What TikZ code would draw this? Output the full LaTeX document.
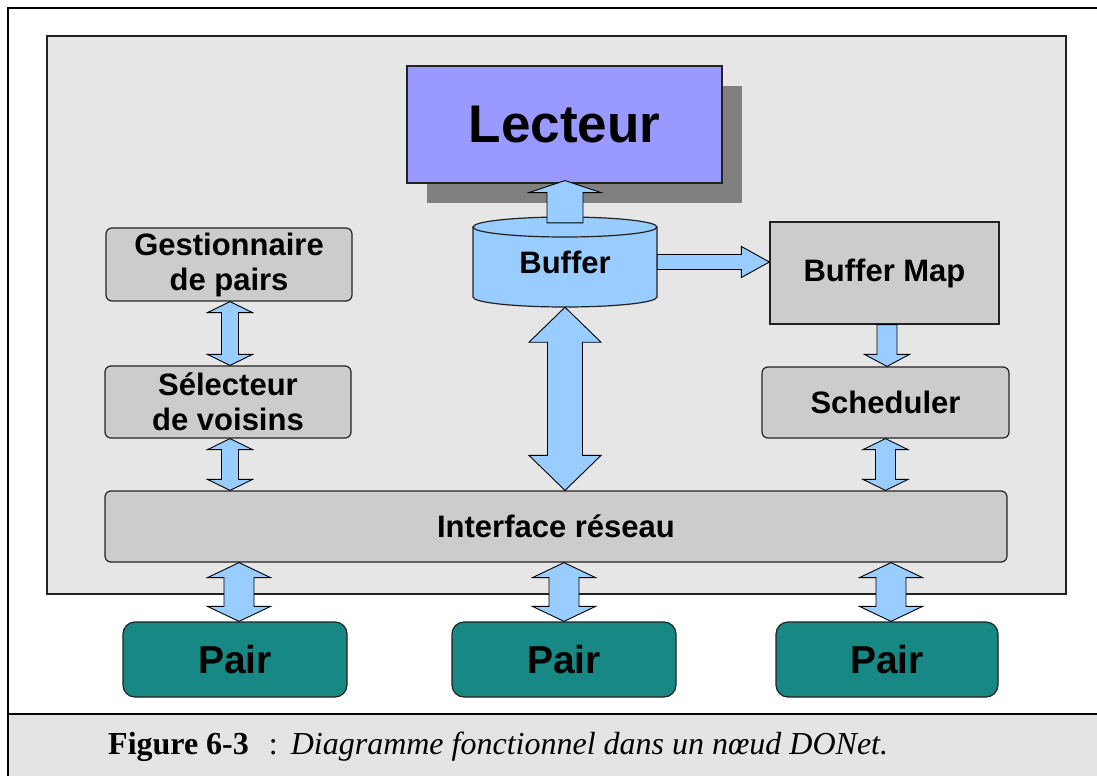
\documentclass[tikz,border=0pt]{standalone}
\usepackage{fontspec}
\setmainfont{Liberation Serif}
\newfontfamily\labelfont{Liberation Sans}
\usetikzlibrary{calc}

\definecolor{panelgray}{HTML}{E6E6E6}
\definecolor{capgray}{HTML}{E4E4E4}
\definecolor{boxgray}{HTML}{CCCCCC}
\definecolor{lectblue}{HTML}{9999FF}
\definecolor{skyblue}{HTML}{99CCFF}
\definecolor{pairteal}{RGB}{24,136,132}
\definecolor{shadowgray}{HTML}{808080}
\definecolor{edge}{HTML}{222222}

% block arrows drawn as outlined polygons between two points
\newcommand\dblarrowv[5]{% top, bottom, half shaft, half head, head length
  \draw[blockarrow] let \p1=(#1), \p2=(#2) in
    (\x1,\y1) -- (\x1+#4,\y1-#5) -- (\x1+#3,\y1-#5) -- (\x1+#3,\y2+#5)
    -- (\x1+#4,\y2+#5) -- (\x1,\y2) -- (\x1-#4,\y2+#5) -- (\x1-#3,\y2+#5)
    -- (\x1-#3,\y1-#5) -- (\x1-#4,\y1-#5) -- cycle;}
\newcommand\uparrowv[5]{% base, tip, half shaft, half head, head length
  \draw[blockarrow] let \p1=(#1), \p2=(#2) in
    (\x1-#3,\y1) -- (\x1-#3,\y2-#5) -- (\x1-#4,\y2-#5) -- (\x1,\y2)
    -- (\x1+#4,\y2-#5) -- (\x1+#3,\y2-#5) -- (\x1+#3,\y1) -- cycle;}
\newcommand\downarrowv[5]{% base, tip, half shaft, half head, head length
  \draw[blockarrow] let \p1=(#1), \p2=(#2) in
    (\x1-#3,\y1) -- (\x1-#3,\y2+#5) -- (\x1-#4,\y2+#5) -- (\x1,\y2)
    -- (\x1+#4,\y2+#5) -- (\x1+#3,\y2+#5) -- (\x1+#3,\y1) -- cycle;}
\newcommand\rightarrowh[5]{% base, tip, half shaft, half head, head length
  \draw[blockarrow] let \p1=(#1), \p2=(#2) in
    (\x1,\y1-#3) -- (\x2-#5,\y1-#3) -- (\x2-#5,\y1-#4) -- (\x2,\y1)
    -- (\x2-#5,\y1+#4) -- (\x2-#5,\y1+#3) -- (\x1,\y1+#3) -- cycle;}

\begin{document}
\begin{tikzpicture}[x=1pt,y=-1pt,
  blockarrow/.style={fill=skyblue, draw=black, line width=0.9pt, line join=miter},
  graybox/.style={draw=edge, line width=1.2pt, fill=boxgray, inner sep=0pt,
    align=center, font=\labelfont\bfseries\fontsize{31}{35}\selectfont},
  roundbox/.style={graybox, rounded corners=6pt},
  pairbox/.style={draw=edge, line width=1.2pt, fill=pairteal, rounded corners=12pt,
    inner sep=0pt, minimum width=224pt, minimum height=75pt,
    font=\labelfont\bfseries\fontsize{39}{44}\selectfont}]

\useasboundingbox (0,0) rectangle (1097,776);

% page frame and caption band
\fill[white] (0,0) rectangle (1097,776);
\fill[capgray] (8,714) rectangle (1097,776);
\draw[black, line width=1.5pt] (1097,8) -- (8,8) -- (8,776);
\draw[black, line width=1.2pt] (8,714) -- (1097,714);

% node panel
\draw[edge, line width=1.4pt, fill=panelgray] (47,36) rectangle (1066,594);

% player with drop shadow
\fill[shadowgray] (427,86) rectangle (742,203);
\node[draw=edge, line width=1.2pt, fill=lectblue, inner sep=0pt,
  minimum width=315pt, minimum height=117pt,
  font=\labelfont\bfseries\fontsize{53}{60}\selectfont] (lect) at (564.5,124.5) {Lecteur};

% buffer cylinder
\fill[skyblue] (473,227) -- (473,297)
  arc[start angle=180, end angle=360, x radius=92pt, y radius=10pt]
  -- (657,227) arc[start angle=0, end angle=180, x radius=92pt, y radius=10pt] -- cycle;
\draw[edge, line width=1.2pt] (473,227) -- (473,297)
  arc[start angle=180, end angle=360, x radius=92pt, y radius=10pt] -- (657,227);
\draw[edge, line width=1.2pt] (565,227) ellipse [x radius=92pt, y radius=10pt];
\node[inner sep=0pt, minimum width=184pt, minimum height=90pt,
  font=\labelfont\bfseries\fontsize{31}{35}\selectfont] (buf) at (565,262) {Buffer};

% functional blocks
\node[roundbox, minimum width=246pt, minimum height=73pt] (gest) at (229,264.5)
  {Gestionnaire\\de pairs};
\node[roundbox, minimum width=246pt, minimum height=72pt] (sel) at (228,402)
  {Sélecteur\\de voisins};
\node[graybox, minimum width=229pt, minimum height=102pt] (bmap) at (884.5,273)
  {Buffer Map};
\node[roundbox, minimum width=247pt, minimum height=71pt] (sched) at (885.5,402.5)
  {Scheduler};
\node[roundbox, minimum width=902pt, minimum height=71pt] (iface) at (556,526.5)
  {Interface réseau};

% peers
\node[pairbox] (p1) at (235,659.5) {Pair};
\node[pairbox] (p2) at (564,659.5) {Pair};
\node[pairbox, minimum width=222pt] (p3) at (887,659.5) {Pair};

% connectors
\uparrowv{$(buf.north)+(0,6)$}{$(lect.south)+(0,-3)$}{18pt}{36pt}{12pt}
\rightarrowh{buf.east}{buf.east -| bmap.west}{7.5pt}{15.5pt}{28pt}
\downarrowv{$(bmap.south)+(2.5,0)$}{$(sched.north)+(1.5,0)$}{10pt}{22.5pt}{12pt}
\dblarrowv{$(gest.south)+(1,0)$}{sel.north}{8.5pt}{22.5pt}{11pt}
\dblarrowv{$(sel.south)+(2,0)$}{iface.north}{8.5pt}{22.5pt}{11pt}
\dblarrowv{sched.south}{iface.north}{10pt}{22.5pt}{11pt}
\dblarrowv{buf.south}{iface.north}{17.5pt}{36pt}{35pt}
\dblarrowv{$(iface.south -| p1.north)+(4,0)$}{p1.north}{15pt}{31.5pt}{15pt}
\dblarrowv{iface.south -| p2.north}{p2.north}{15pt}{31.5pt}{15pt}
\dblarrowv{$(iface.south -| p3.north)+(4,0)$}{p3.north}{15pt}{31.5pt}{15pt}

% caption
\node[anchor=base west, inner sep=0pt, font=\fontsize{32}{38}\selectfont] (cap) at (108,754)
  {\textbf{Figure 6-3}\hspace{20pt}:\hspace{13pt}\textit{Diagramme fonctionnel dans un nœud DONet.}};
\end{tikzpicture}
\end{document}
